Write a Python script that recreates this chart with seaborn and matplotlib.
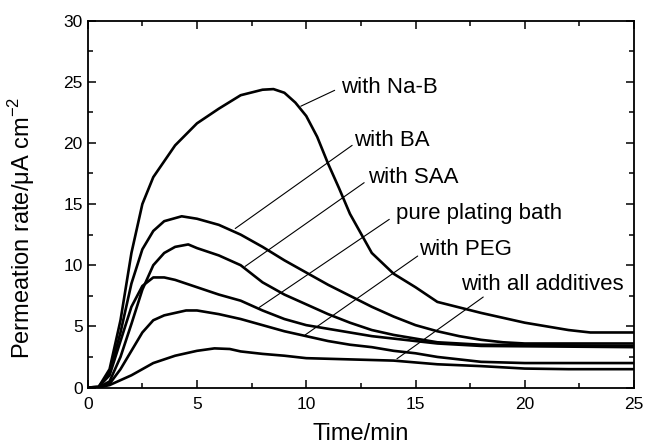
import numpy as np
import pandas as pd
import matplotlib
matplotlib.use("Agg")
import matplotlib.pyplot as plt
import seaborn as sns

# data (time in min, rate in uA cm^-2)
t_nab = [0, 0.5, 1.0, 1.5, 2.0, 2.5, 3.0, 4.0, 5.0, 6.0, 7.0, 8.0, 8.5, 9.0, 9.5, 10.0,
         10.5, 11.0, 11.5, 12.0, 12.5, 13.0, 14.0, 15.0, 16.0, 18.0, 20.0, 22.0, 23.0, 25.0]
y_nab = [0, 0.05, 1.5, 5.5, 11.0, 15.0, 17.2, 19.8, 21.6, 22.8, 23.9, 24.35, 24.4, 24.1, 23.3, 22.2,
         20.5, 18.3, 16.3, 14.2, 12.6, 11.0, 9.3, 8.2, 7.0, 6.1, 5.3, 4.7, 4.5, 4.5]

t_ba = [0, 0.5, 1.0, 1.5, 2.0, 2.5, 3.0, 3.5, 4.3, 5.0, 6.0, 7.0, 8.0, 9.0, 10.0,
        11.0, 12.0, 13.0, 14.0, 15.0, 16.0, 17.0, 18.0, 19.0, 20.0, 25.0]
y_ba = [0, 0.05, 1.2, 4.5, 8.5, 11.3, 12.8, 13.6, 14.0, 13.8, 13.3, 12.5, 11.5, 10.4, 9.4,
        8.4, 7.5, 6.6, 5.8, 5.1, 4.6, 4.2, 3.9, 3.7, 3.6, 3.6]

t_saa = [0, 0.5, 1.0, 1.5, 2.0, 2.5, 3.0, 3.5, 4.0, 4.6, 5.0, 6.0, 7.0, 8.0, 9.0, 10.0,
         11.0, 12.0, 13.0, 14.0, 15.0, 16.0, 18.0, 25.0]
y_saa = [0, 0.0, 0.5, 2.5, 5.2, 8.0, 10.0, 11.0, 11.5, 11.7, 11.4, 10.8, 10.0, 8.6, 7.6, 6.8,
         6.0, 5.3, 4.7, 4.3, 4.0, 3.7, 3.5, 3.4]

t_pure = [0, 0.5, 1.0, 1.5, 2.0, 2.5, 3.0, 3.5, 4.0, 5.0, 6.0, 7.0, 8.0, 9.0, 10.0,
          11.0, 12.0, 13.0, 14.0, 15.0, 16.0, 18.0, 25.0]
y_pure = [0, 0.05, 1.0, 3.8, 6.6, 8.3, 9.0, 9.0, 8.8, 8.2, 7.6, 7.1, 6.3, 5.6, 5.1,
          4.8, 4.5, 4.2, 4.0, 3.8, 3.6, 3.4, 3.3]

t_peg = [0, 0.5, 1.0, 1.5, 2.0, 2.5, 3.0, 3.5, 4.5, 5.0, 6.0, 7.0, 8.0, 9.0, 10.0,
         11.0, 12.0, 13.0, 14.0, 15.0, 16.0, 17.0, 18.0, 20.0, 25.0]
y_peg = [0, 0.0, 0.3, 1.5, 3.0, 4.5, 5.5, 5.9, 6.3, 6.3, 6.0, 5.6, 5.1, 4.6, 4.2,
         3.8, 3.5, 3.3, 3.0, 2.8, 2.5, 2.3, 2.1, 2.0, 2.0]

t_all = [0, 0.5, 1.0, 2.0, 3.0, 4.0, 5.0, 5.8, 6.5, 7.0, 8.0, 9.0, 10.0, 12.0, 14.0,
         16.0, 18.0, 20.0, 22.0, 25.0]
y_all = [0, 0.0, 0.2, 1.0, 2.0, 2.6, 3.0, 3.2, 3.15, 2.95, 2.75, 2.6, 2.4, 2.3, 2.2,
         1.9, 1.75, 1.55, 1.5, 1.5]

labels = ["with Na-B", "with BA", "with SAA", "pure plating bath", "with PEG", "with all additives"]
# label anchor (text position) and leader-line start on the curve
label_xy = [(11.6, 24.5), (12.2, 20.2), (12.85, 17.2), (14.1, 14.25), (15.15, 11.3), (17.1, 8.4)]
line_from = [(9.75, 23.0), (6.75, 13.0), (7.2, 9.9), (7.85, 6.55), (9.95, 4.3), (14.15, 2.35)]
line_to = [(11.3, 24.3), (12.1, 19.8), (12.65, 16.75), (13.8, 13.75), (15.1, 10.75), (18.1, 7.4)]

series = [(t_nab, y_nab), (t_ba, y_ba), (t_saa, y_saa), (t_pure, y_pure), (t_peg, y_peg), (t_all, y_all)]
frames = []
for name, (t, y) in zip(labels, series):
    frames.append(pd.DataFrame({"time": t, "rate": y, "bath": name}))
df = pd.concat(frames, ignore_index=True)

sns.set_style("ticks")
plt.rcParams["font.family"] = ["Liberation Sans", "DejaVu Sans"]
plt.rcParams["text.color"] = "black"
plt.rcParams["axes.labelcolor"] = "black"
plt.rcParams["xtick.color"] = "black"
plt.rcParams["ytick.color"] = "black"

fig = plt.figure(figsize=(6.45, 4.48), dpi=100)
ax = fig.add_axes([0.136, 0.135, 0.847, 0.819])

sns.lineplot(data=df, x="time", y="rate", hue="bath", units="bath", estimator=None,
             palette=["black"] * len(labels), linewidth=1.9, legend=False, ax=ax, sort=False)

for name, (tx, ty), (x0, y0), (x1, y1) in zip(labels, label_xy, line_from, line_to):
    ax.plot([x0, x1], [y0, y1], color="black", lw=0.8)
    ax.text(tx, ty, name, fontsize=16, ha="left", va="center")

ax.set_xlim(0, 25)
ax.set_ylim(0, 30)
ax.set_xticks([0, 5, 10, 15, 20, 25])
ax.set_yticks([0, 5, 10, 15, 20, 25, 30])
ax.set_xticks(np.arange(0, 25.1, 2.5), minor=True)
ax.set_yticks(np.arange(0, 30.1, 2.5), minor=True)
ax.tick_params(which="both", direction="in", top=True, right=True, width=1.1, labelsize=12.5)
ax.tick_params(which="major", length=6)
ax.tick_params(which="minor", length=3.5)
ax.tick_params(axis="x", pad=7)
for s in ax.spines.values():
    s.set_linewidth(1.3)
    s.set_color("black")

ax.set_xlabel("Time/min", fontsize=17, labelpad=8)
ax.set_ylabel(r"Permeation rate/$\mathregular{\mu}$A cm$^{\mathregular{-2}}$", fontsize=17)
ax.yaxis.set_label_coords(-0.093, 0.436)

fig.savefig("out.png", dpi=100)
